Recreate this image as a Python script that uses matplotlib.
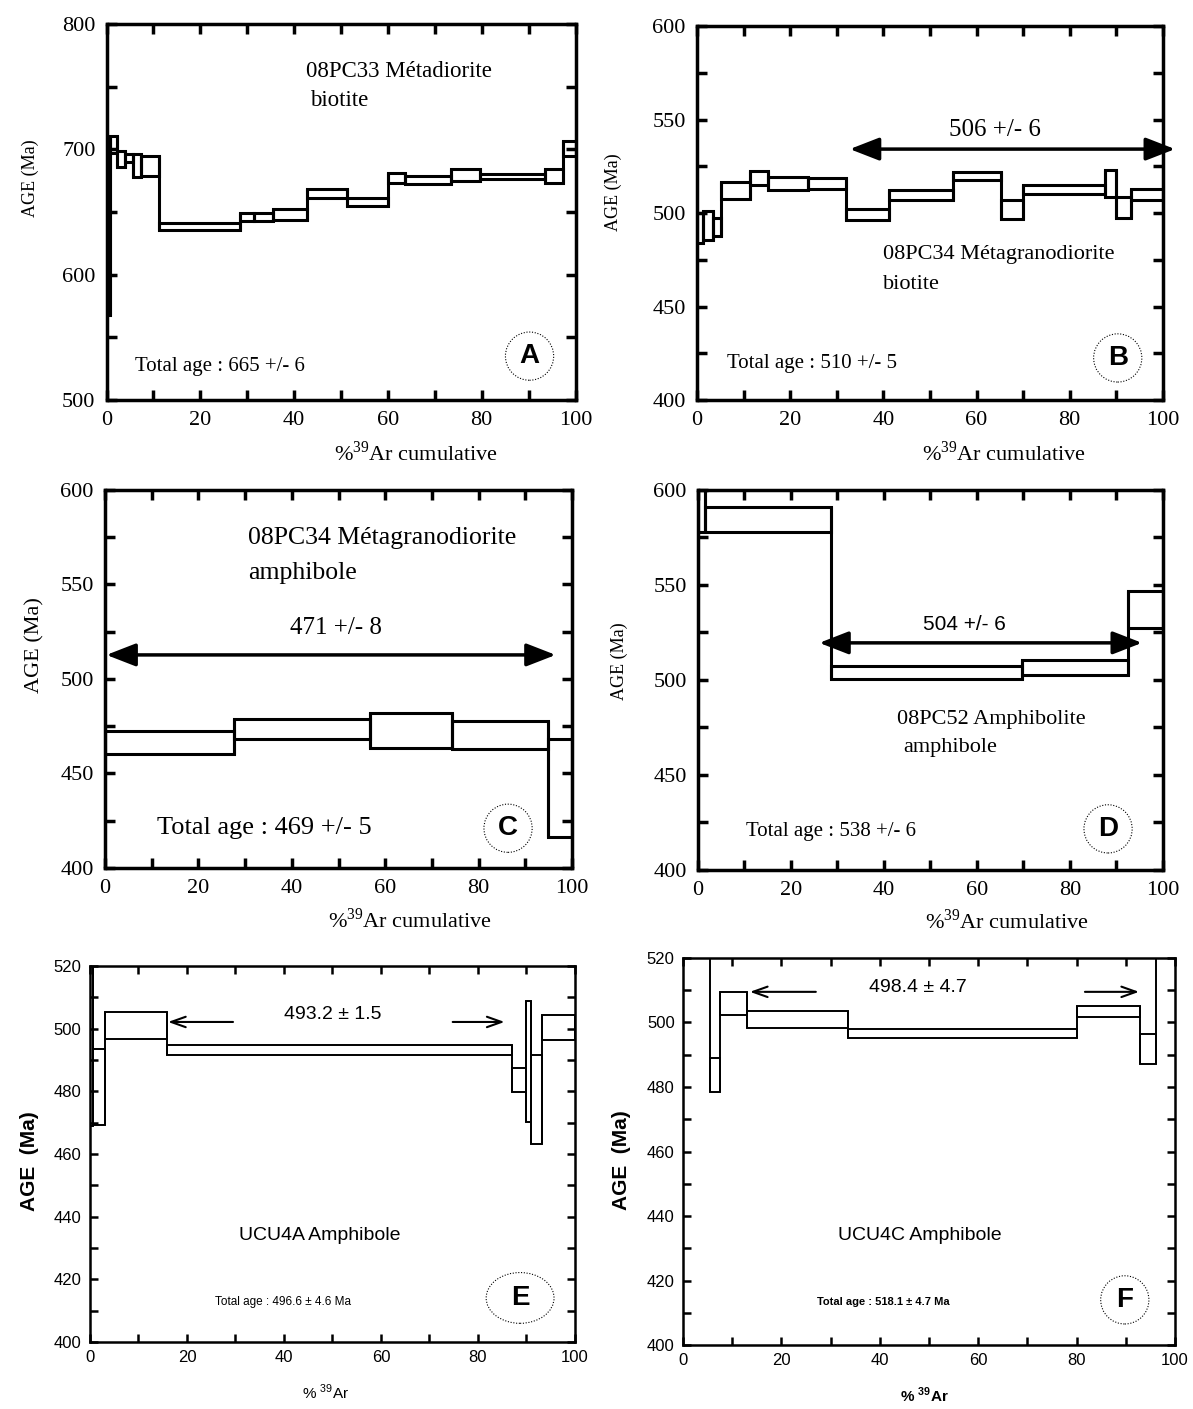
import numpy as np
import matplotlib
matplotlib.use("Agg")
import matplotlib.pyplot as plt
from matplotlib.patches import Rectangle, Ellipse
from matplotlib.ticker import MultipleLocator

# step heating spectra: cumulative %39Ar edges, lower / upper age (Ma) of each step
edges_a = [0, 0.75, 2.2, 3.95, 5.7, 7.4, 11.1, 28.5, 31.4, 35.6, 42.7, 51.3, 60.0, 63.6, 73.5, 79.6, 93.4, 97.4, 100]
lo_a = [568, 697, 686, 690, 678, 679, 635.5, 642.5, 642.5, 644, 661.5, 655, 673, 672.5, 674.5, 676.5, 673.5, 695]
hi_a = [708, 711, 698.5, 696.5, 696, 694.5, 641.5, 649, 649.5, 652, 668, 661.5, 681, 678.5, 684, 680.5, 684, 707]

edges_b = [0, 1.3, 3.4, 5.2, 11.3, 15.2, 23.8, 32.0, 41.3, 54.9, 65.3, 70.0, 87.5, 90.0, 93.2, 100]
lo_b = [484, 485.8, 487.6, 507.3, 515, 512.2, 513.1, 496.4, 506.8, 517.5, 496.7, 510.4, 508.6, 497.6, 506.8]
hi_b = [500, 501.3, 497.6, 516.8, 522.3, 519.5, 518.6, 502.2, 512.2, 522, 506.8, 515, 523.2, 508.6, 513.1]

edges_c = [0, 27.7, 56.8, 74.3, 94.8, 100]
lo_c = [460.5, 468.4, 463.7, 462.8, 416.3]
hi_c = [472.3, 478.6, 482.1, 477.9, 468.4]

edges_d = [0, 1.6, 28.6, 69.8, 92.5, 100]
lo_d = [578, 578, 500.4, 502.7, 527.5]
hi_d = [650, 591, 507.1, 510.3, 547]

edges_e = [0, 0.6, 3.2, 15.9, 87.1, 90.0, 91.0, 93.2, 100]
lo_e = [469, 469.1, 496.6, 491.6, 479.6, 470.2, 463.1, 496.4]
hi_e = [530, 493.5, 505.2, 494.6, 487.4, 508.9, 491.4, 504.4]

edges_f = [0, 5.5, 7.5, 13.1, 33.5, 80.0, 92.8, 96.2, 100]
lo_f = [530, 478.5, 502.3, 498.4, 495.3, 501.8, 487.0, 525]
hi_f = [560, 489.1, 509.6, 503.6, 498.1, 505.0, 496.4, 560]

SERIF = "Liberation Serif"
SANS = "Liberation Sans"


def draw_spectrum(ax, edges, lo, hi, lw):
    for i in range(len(lo)):
        ax.add_patch(Rectangle((edges[i], lo[i]), edges[i + 1] - edges[i], hi[i] - lo[i],
                               fill=False, ec="k", lw=lw, joinstyle="miter"))
    for i in range(1, len(lo)):
        ax.vlines(edges[i], min(lo[i - 1], lo[i]), max(hi[i - 1], hi[i]), colors="k", lw=lw)


def setup(ax, ylim, ymaj, ymin, fam, fs, lw, tlen, pad):
    ax.set_xlim(0, 100)
    ax.set_ylim(*ylim)
    ax.xaxis.set_major_locator(MultipleLocator(20))
    ax.xaxis.set_minor_locator(MultipleLocator(10))
    ax.yaxis.set_major_locator(MultipleLocator(ymaj))
    ax.yaxis.set_minor_locator(MultipleLocator(ymin))
    ax.tick_params(which="both", direction="in", top=True, right=True, width=lw, labelsize=fs, pad=pad)
    ax.tick_params(which="major", length=tlen)
    ax.tick_params(which="minor", length=tlen)
    for s in ax.spines.values():
        s.set_linewidth(lw)
    plt.setp(ax.get_xticklabels() + ax.get_yticklabels(), family=fam)


def circ(ax, x, y, letter, style="circle,pad=0.4"):
    ax.text(x, y, letter, fontsize=20, fontweight="bold", family=SANS, ha="center", va="center",
            bbox=dict(boxstyle=style, fc="none", ec="k", lw=0.8, ls=(0, (1, 1.5))))


def dbl_arrow(ax, x0, x1, y):
    ax.annotate("", xy=(x1, y), xytext=(x0, y), annotation_clip=False,
                arrowprops=dict(arrowstyle="<|-|>,head_length=0.9,head_width=0.35",
                                lw=2.5, color="k", mutation_scale=20, shrinkA=0, shrinkB=0))


def thin_arrow(ax, x0, x1, y):
    ax.annotate("", xy=(x1, y), xytext=(x0, y),
                arrowprops=dict(arrowstyle="->,head_length=0.7,head_width=0.25",
                                lw=1.5, color="k", mutation_scale=15, shrinkA=0, shrinkB=0))


fig = plt.figure(figsize=(11.93, 14.09), dpi=100)

xlab_serif = r"%$^{\mathregular{39}}$Ar cumulative"

# ---- A
ax = fig.add_axes([0.0893, 0.7161, 0.3931, 0.2669])
setup(ax, (500, 800), 100, 50, SERIF, 16, 2.5, 7, 8)
draw_spectrum(ax, edges_a, lo_a, hi_a, 2.2)
ax.text(42.6, 761.7, "08PC33 Métadiorite", family=SERIF, fontsize=16.5, va="center")
ax.text(43.4, 739.3, "biotite", family=SERIF, fontsize=16.5, va="center")
ax.text(6.1, 527, "Total age : 665 +/- 6", family=SERIF, fontsize=15, va="center")
circ(ax, 90.2, 535, "A")
ax.set_ylabel("AGE (Ma)", family=SERIF, fontsize=13, va="center", ha="center")
ax.yaxis.set_label_coords(-0.162, 0.59)
ax.set_xlabel(xlab_serif, family=SERIF, fontsize=16, va="center", ha="center")
ax.xaxis.set_label_coords(0.66, -0.141)

# ---- B
ax = fig.add_axes([0.5842, 0.7161, 0.3906, 0.2654])
setup(ax, (400, 600), 50, 25, SERIF, 16, 2.5, 7, 8)
draw_spectrum(ax, edges_b, lo_b, hi_b, 2.2)
dbl_arrow(ax, 32.8, 102.6, 534.2)
ax.text(63.9, 544.4, "506 +/- 6", family=SERIF, fontsize=18, va="center", ha="center")
ax.text(39.9, 478, "08PC34 Métagranodiorite", family=SERIF, fontsize=16, va="center")
ax.text(39.9, 462, "biotite", family=SERIF, fontsize=16, va="center")
ax.text(6.4, 419.3, "Total age : 510 +/- 5", family=SERIF, fontsize=15, va="center")
circ(ax, 90.3, 422.5, "B")
ax.set_ylabel("AGE (Ma)", family=SERIF, fontsize=13, va="center", ha="center")
ax.yaxis.set_label_coords(-0.18, 0.556)
ax.set_xlabel(xlab_serif, family=SERIF, fontsize=16, va="center", ha="center")
ax.xaxis.set_label_coords(0.66, -0.143)

# ---- C
ax = fig.add_axes([0.088, 0.384, 0.3915, 0.2683])
setup(ax, (400, 600), 50, 25, SERIF, 16, 2.5, 7, 8)
draw_spectrum(ax, edges_c, lo_c, hi_c, 2.2)
dbl_arrow(ax, 0.3, 96.5, 512.7)
ax.text(49.5, 527, "471 +/- 8", family=SERIF, fontsize=18, va="center", ha="center")
ax.text(30.6, 574.6, "08PC34 Métagranodiorite", family=SERIF, fontsize=18.5, va="center")
ax.text(30.6, 556, "amphibole", family=SERIF, fontsize=18.5, va="center")
ax.text(11.1, 421.2, "Total age : 469 +/- 5", family=SERIF, fontsize=19, va="center")
circ(ax, 86.3, 421, "C")
ax.set_ylabel("AGE (Ma)", family=SERIF, fontsize=16, va="center", ha="center")
ax.yaxis.set_label_coords(-0.15, 0.59)
ax.set_xlabel(xlab_serif, family=SERIF, fontsize=16, va="center", ha="center")
ax.xaxis.set_label_coords(0.653, -0.138)

# ---- D
ax = fig.add_axes([0.585, 0.3826, 0.3898, 0.2697])
setup(ax, (400, 600), 50, 25, SERIF, 16, 2.5, 7, 8)
draw_spectrum(ax, edges_d, lo_d, hi_d, 2.2)
dbl_arrow(ax, 26.1, 95.5, 519.5)
ax.text(57.4, 529, "504 +/- 6", family=SANS, fontsize=15, va="center", ha="center")
ax.text(42.8, 479, "08PC52 Amphibolite", family=SERIF, fontsize=16, va="center")
ax.text(44.1, 464.2, "amphibole", family=SERIF, fontsize=16, va="center")
ax.text(10.3, 420, "Total age : 538 +/- 6", family=SERIF, fontsize=15, va="center")
circ(ax, 88.2, 421.6, "D")
ax.set_ylabel("AGE (Ma)", family=SERIF, fontsize=13, va="center", ha="center")
ax.yaxis.set_label_coords(-0.168, 0.55)
ax.set_xlabel(xlab_serif, family=SERIF, fontsize=16, va="center", ha="center")
ax.xaxis.set_label_coords(0.665, -0.137)

# ---- E
ax = fig.add_axes([0.0754, 0.0476, 0.4065, 0.2669])
setup(ax, (400, 520), 20, 10, SANS, 12, 1.8, 6, 6)
draw_spectrum(ax, edges_e, lo_e, hi_e, 1.4)
thin_arrow(ax, 29.5, 16.1, 502.1)
thin_arrow(ax, 74.8, 85.5, 502.1)
ax.text(50.1, 504.4, "493.2 ± 1.5", family=SANS, fontsize=14, va="center", ha="center")
ax.text(47.4, 434, "UCU4A Amphibole", family=SANS, fontsize=14, va="center", ha="center")
ax.text(39.8, 412.8, "Total age : 496.6 ± 4.6 Ma", family=SANS, fontsize=8.5, va="center", ha="center")
ax.text(88.7, 414, "E", fontsize=20, fontweight="bold", family=SANS, ha="center", va="center")
ax.add_patch(Ellipse((0.887, 0.117), 0.14, 0.135, transform=ax.transAxes, fill=False,
                     ec="k", lw=0.8, ls=(0, (1, 1.5))))
ax.set_ylabel("AGE  (Ma)", family=SANS, fontsize=15, fontweight="bold", va="center", ha="center")
ax.yaxis.set_label_coords(-0.124, 0.48)
ax.set_xlabel(r"% $^{\mathregular{39}}$Ar", family=SANS, fontsize=11, va="center", ha="center")
ax.xaxis.set_label_coords(0.485, -0.133)

# ---- F
ax = fig.add_axes([0.5725, 0.0454, 0.4124, 0.2747])
setup(ax, (400, 520), 20, 10, SANS, 12, 1.8, 6, 6)
draw_spectrum(ax, edges_f, lo_f, hi_f, 1.4)
thin_arrow(ax, 27.0, 13.6, 509.5)
thin_arrow(ax, 81.7, 92.7, 509.5)
ax.text(47.8, 510.7, "498.4 ± 4.7", family=SANS, fontsize=14, va="center", ha="center")
ax.text(48.2, 434, "UCU4C Amphibole", family=SANS, fontsize=14, va="center", ha="center")
ax.text(40.7, 413.3, "Total age : 518.1 ± 4.7 Ma", family=SANS, fontsize=8, fontweight="bold",
        va="center", ha="center")
circ(ax, 89.8, 414, "F")
ax.set_ylabel("AGE  (Ma)", family=SANS, fontsize=15, fontweight="bold", va="center", ha="center")
ax.yaxis.set_label_coords(-0.124, 0.478)
ax.set_xlabel(r"% $^{\mathregular{39}}$Ar", family=SANS, fontsize=11, fontweight="bold",
              va="center", ha="center")
ax.xaxis.set_label_coords(0.49, -0.129)

fig.savefig("out.png", dpi=100)
